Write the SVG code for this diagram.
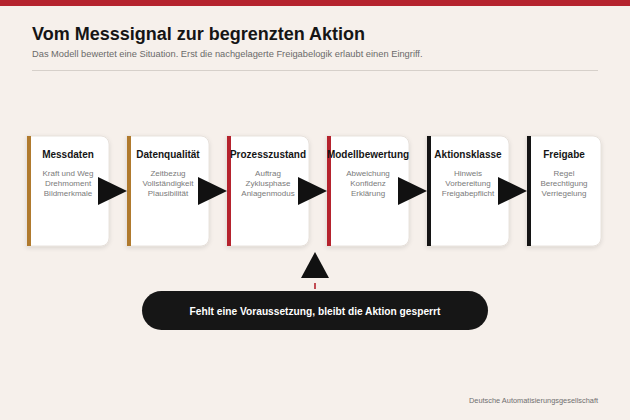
<svg xmlns="http://www.w3.org/2000/svg" width="630" height="420" viewBox="0 0 630 420">
<defs>
<style>
.t{font-family:"Liberation Sans",Arial,sans-serif}
.ct{font-family:"Liberation Sans",Arial,sans-serif;font-size:10px;font-weight:bold;fill:#151515;text-anchor:middle}
.cb{font-family:"Liberation Sans",Arial,sans-serif;font-size:8px;fill:#7a7a7a;text-anchor:middle}
.card{fill:#ffffff;stroke:#e2dcd6;stroke-width:0.8}
.arr{fill:#111111}
</style>
<filter id="sh" x="-20%" y="-20%" width="140%" height="140%">
<feDropShadow dx="0" dy="1.5" stdDeviation="2" flood-color="#000" flood-opacity="0.12"/>
</filter>
</defs>
<rect width="630" height="420" fill="#f6f0eb"/>
<rect width="630" height="6" fill="#b5232e"/>
<text class="t" x="32" y="40" font-size="18" font-weight="bold" fill="#151515">Vom Messsignal zur begrenzten Aktion</text>
<text class="t" x="32" y="57" font-size="9.3" fill="#6a6a6a">Das Modell bewertet eine Situation. Erst die nachgelagerte Freigabelogik erlaubt einen Eingriff.</text>
<line x1="32" y1="70.5" x2="598" y2="70.5" stroke="#d6d0ca" stroke-width="1"/>

<g id="node-messdaten">
<path class="card" filter="url(#sh)" d="M27,136 H101 A8,8 0 0 1 109,144 V238 A8,8 0 0 1 101,246 H27 Z"/>
<rect x="27" y="136" width="4" height="110" fill="#b07a2e"/>
<text class="ct" x="68" y="158">Messdaten</text>
<text class="cb" x="68" y="176">Kraft und Weg</text>
<text class="cb" x="68" y="186">Drehmoment</text>
<text class="cb" x="68" y="196">Bildmerkmale</text>
</g>
<g id="node-datenqualitaet">
<path class="card" filter="url(#sh)" d="M127,136 H201 A8,8 0 0 1 209,144 V238 A8,8 0 0 1 201,246 H127 Z"/>
<rect x="127" y="136" width="4" height="110" fill="#b07a2e"/>
<text class="ct" x="168" y="158">Datenqualität</text>
<text class="cb" x="168" y="176">Zeitbezug</text>
<text class="cb" x="168" y="186">Vollständigkeit</text>
<text class="cb" x="168" y="196">Plausibilität</text>
</g>
<g id="node-prozesszustand">
<path class="card" filter="url(#sh)" d="M227,136 H301 A8,8 0 0 1 309,144 V238 A8,8 0 0 1 301,246 H227 Z"/>
<rect x="227" y="136" width="4" height="110" fill="#b5232e"/>
<text class="ct" x="268" y="158">Prozesszustand</text>
<text class="cb" x="268" y="176">Auftrag</text>
<text class="cb" x="268" y="186">Zyklusphase</text>
<text class="cb" x="268" y="196">Anlagenmodus</text>
</g>
<g id="node-modellbewertung">
<path class="card" filter="url(#sh)" d="M327,136 H401 A8,8 0 0 1 409,144 V238 A8,8 0 0 1 401,246 H327 Z"/>
<rect x="327" y="136" width="4" height="110" fill="#b5232e"/>
<text class="ct" x="368" y="158">Modellbewertung</text>
<text class="cb" x="368" y="176">Abweichung</text>
<text class="cb" x="368" y="186">Konfidenz</text>
<text class="cb" x="368" y="196">Erklärung</text>
</g>
<g id="node-aktionsklasse">
<path class="card" filter="url(#sh)" d="M427,136 H501 A8,8 0 0 1 509,144 V238 A8,8 0 0 1 501,246 H427 Z"/>
<rect x="427" y="136" width="4" height="110" fill="#141414"/>
<text class="ct" x="468" y="158">Aktionsklasse</text>
<text class="cb" x="468" y="176">Hinweis</text>
<text class="cb" x="468" y="186">Vorbereitung</text>
<text class="cb" x="468" y="196">Freigabepflicht</text>
</g>
<g id="node-freigabe">
<path class="card" filter="url(#sh)" d="M527,136 H593 A8,8 0 0 1 601,144 V238 A8,8 0 0 1 593,246 H527 Z"/>
<rect x="527" y="136" width="4" height="110" fill="#141414"/>
<text class="ct" x="564" y="158">Freigabe</text>
<text class="cb" x="564" y="176">Regel</text>
<text class="cb" x="564" y="186">Berechtigung</text>
<text class="cb" x="564" y="196">Verriegelung</text>
</g>

<g id="connectors">
<polygon class="arr" points="98,177 127,191 98,205"/>
<polygon class="arr" points="198,177 227,191 198,205"/>
<polygon class="arr" points="298,177 327,191 298,205"/>
<polygon class="arr" points="398,177 427,191 398,205"/>
<polygon class="arr" points="498,177 527,191 498,205"/>
<polygon class="arr" points="315,252 329,278 301,278"/>
<line x1="315" y1="283" x2="315" y2="289" stroke="#b5232e" stroke-width="1.6"/>
</g>

<g id="node-sperre">
<rect x="142" y="291" width="346" height="39" rx="19.5" fill="#161616"/>
<text class="t" x="315" y="315" font-size="10.2" font-weight="bold" fill="#ffffff" text-anchor="middle">Fehlt eine Voraussetzung, bleibt die Aktion gesperrt</text>
</g>
<text class="t" x="598" y="403" font-size="7.4" fill="#6f6f6f" text-anchor="end">Deutsche Automatisierungsgesellschaft</text>
</svg>
